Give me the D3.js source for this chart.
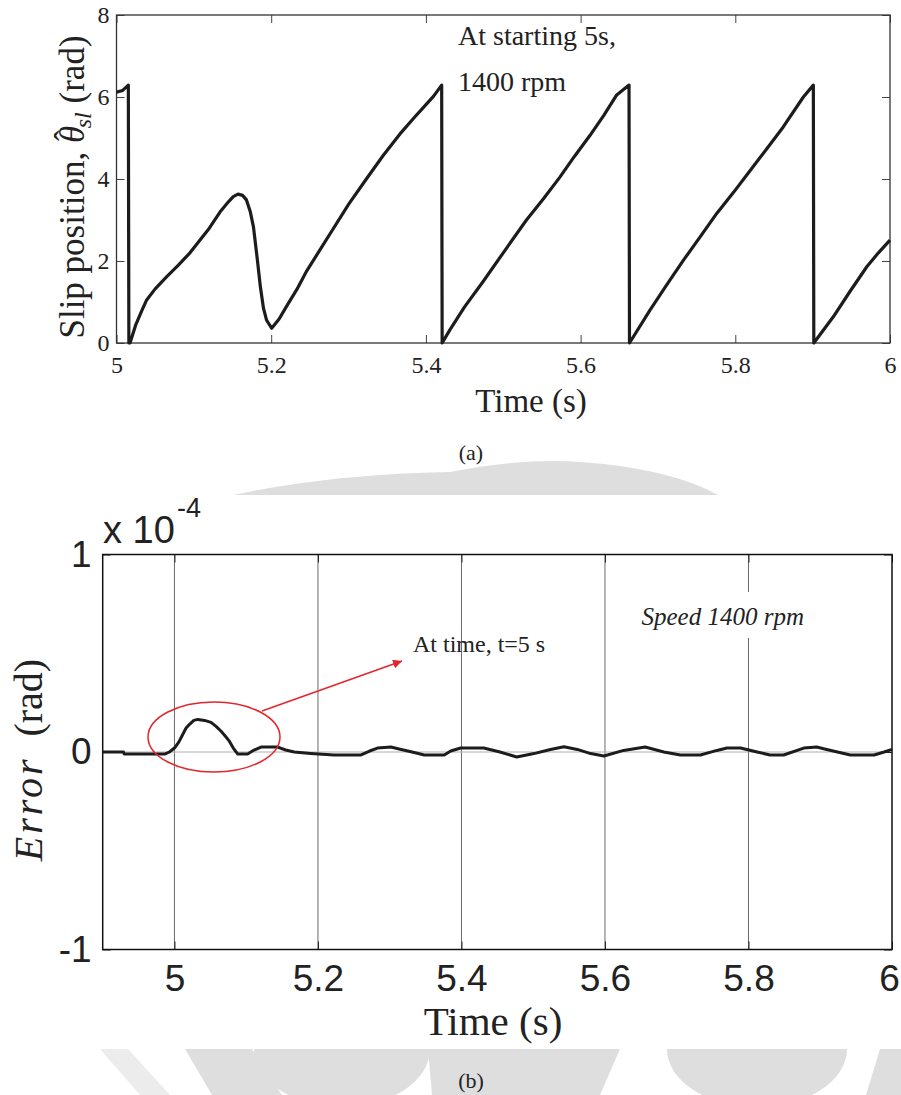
<!DOCTYPE html>
<html>
<head>
<meta charset="utf-8">
<script src="https://cdn.jsdelivr.net/npm/d3@7"></script>
<style>
  body { margin: 0; background: #fff; }
  svg { display: block; }
</style>
</head>
<body>
<script>
// (a) slip position
var slipTime = [5, 5.008, 5.0153, 5.016,
  5.0175, 5.025, 5.033, 5.039, 5.05, 5.065, 5.08, 5.095, 5.108, 5.12, 5.134, 5.145, 5.151, 5.157,
  5.163, 5.168, 5.173, 5.177, 5.182, 5.186, 5.19, 5.194, 5.2006, 5.21, 5.22, 5.233, 5.246, 5.262,
  5.28, 5.3, 5.323, 5.345, 5.3665, 5.385, 5.3966, 5.41, 5.4204, 5.421,
  5.431, 5.45, 5.474, 5.5, 5.53, 5.552, 5.573, 5.592, 5.612, 5.63, 5.6467, 5.6626, 5.6632,
  5.6897, 5.71, 5.733, 5.755, 5.776, 5.798, 5.819, 5.84, 5.862, 5.888, 5.9009, 5.9015,
  5.9267, 5.948, 5.97, 5.985, 6.0];
var slipValue = [6.12, 6.16, 6.29, 0,
  0, 0.45, 0.8, 1.05, 1.32, 1.62, 1.9, 2.2, 2.51, 2.8, 3.2, 3.45, 3.57, 3.63,
  3.6, 3.49, 3.2, 2.84, 2.05, 1.37, 0.85, 0.56, 0.36, 0.58, 0.9, 1.3, 1.76, 2.24,
  2.78, 3.38, 4.0, 4.58, 5.1, 5.5, 5.74, 6.02, 6.29, 0,
  0.32, 0.88, 1.5, 2.2, 3.0, 3.52, 4.04, 4.55, 5.06, 5.55, 6.05, 6.29, 0,
  0.8, 1.38, 2.02, 2.6, 3.16, 3.68, 4.2, 4.72, 5.27, 6.0, 6.29, 0,
  0.64, 1.25, 1.86, 2.2, 2.51];
var slipXTicks = [5, 5.2, 5.4, 5.6, 5.8, 6];
var slipYTicks = [0, 2, 4, 6, 8];

// (b) error in units of 1e-4 rad
var errTime = [4.9, 4.929, 4.93, 4.987, 4.993, 5.0, 5.006, 5.0117, 5.016, 5.021,
  5.027, 5.0326, 5.042, 5.051, 5.058, 5.065, 5.071, 5.0765, 5.082, 5.088,
  5.102, 5.111, 5.1207, 5.144, 5.155, 5.167, 5.19, 5.2227, 5.26, 5.272,
  5.283, 5.3016, 5.313, 5.325, 5.337, 5.348, 5.376, 5.385, 5.399, 5.431,
  5.4536, 5.477, 5.501, 5.524, 5.5428, 5.5614, 5.58, 5.5985, 5.626, 5.656,
  5.682, 5.705, 5.733, 5.756, 5.770, 5.789, 5.812, 5.83, 5.849, 5.877,
  5.895, 5.909, 5.942, 5.975, 5.989, 6.0];
var errValue = [0.0, 0.0, -0.01, -0.01, 0.0, 0.02, 0.05, 0.09, 0.12, 0.14,
  0.16, 0.165, 0.16, 0.15, 0.13, 0.105, 0.08, 0.055, 0.02, -0.01,
  -0.01, 0.01, 0.025, 0.025, 0.01, 0.0, -0.007, -0.015, -0.015, 0.005,
  0.02, 0.025, 0.015, 0.005, -0.005, -0.015, -0.015, 0.005, 0.02, 0.02,
  0.0, -0.025, -0.008, 0.013, 0.027, 0.013, -0.008, -0.02, 0.008, 0.025,
  0.0, -0.015, -0.015, 0.008, 0.02, 0.02, 0.0, -0.015, -0.015, 0.02,
  0.025, 0.013, -0.015, -0.015, 0.0, 0.013];
var errXTicks = [5, 5.2, 5.4, 5.6, 5.8, 6];
var errYTicks = [-1, 0, 1];

const WIDTH = 901;
const HEIGHT = 1095;
const SERIF = '"Liberation Serif", "Times New Roman", serif';
const SANS = '"Liberation Sans", Arial, sans-serif';

var svg = d3.select('body').append('svg')
  .attr('width', WIDTH)
  .attr('height', HEIGHT);

svg.append('rect').attr('width', WIDTH).attr('height', HEIGHT).attr('fill', '#fff');

// faint watermark showing through the gaps between the two figures
var drawWatermark = function(){
  var defs = svg.append('defs');
  defs.append('clipPath').attr('id', 'wm1')
    .append('rect').attr('x', 0).attr('y', 423).attr('width', WIDTH).attr('height', 72);
  defs.append('clipPath').attr('id', 'wm2')
    .append('rect').attr('x', 0).attr('y', 1049).attr('width', WIDTH).attr('height', 46);

  var g1 = svg.append('g').attr('clip-path', 'url(#wm1)').attr('fill', '#dedede');
  g1.append('path').attr('d', 'M228,496 Q330,474 450,472 Q520,458 580,462 Q670,468 720,496 Z');
  var g2 = svg.append('g').attr('clip-path', 'url(#wm2)').attr('fill', '#dedede');
  g2.append('path').attr('d', 'M100,1049 L128,1049 L170,1095 L140,1095 Z').attr('fill', '#ececec');
  g2.append('path').attr('d', 'M185,1049 L252,1049 L282,1095 L212,1095 Z');
  g2.append('ellipse').attr('cx', 342).attr('cy', 1049).attr('rx', 88).attr('ry', 58);
  g2.append('path').attr('d', 'M428,1049 L620,1049 L600,1095 L432,1095 Z');
  g2.append('ellipse').attr('cx', 757).attr('cy', 1049).attr('rx', 90).attr('ry', 58);
  g2.append('path').attr('d', 'M880,1049 L901,1049 L901,1095 L866,1095 Z');
};

var drawSlip = function(){
  var x = d3.scaleLinear().domain([5, 6]).range([116.5, 890]);
  var y = d3.scaleLinear().domain([0, 8]).range([343, 15]);
  var g = svg.append('g');

  g.append('g').attr('transform', 'translate(0,343)')
    .call(d3.axisBottom(x).tickValues(slipXTicks).tickSize(-8).tickPadding(13).tickFormat(d3.format('')));
  g.append('g').attr('transform', 'translate(0,15)')
    .call(d3.axisTop(x).tickValues(slipXTicks).tickSize(-8).tickFormat(''));
  g.append('g').attr('transform', 'translate(116.5,0)')
    .call(d3.axisLeft(y).tickValues(slipYTicks).tickSize(-8).tickPadding(7).tickFormat(d3.format('')));
  g.append('g').attr('transform', 'translate(890,0)')
    .call(d3.axisRight(y).tickValues(slipYTicks).tickSize(-8).tickFormat(''));
  g.selectAll('.domain').remove();
  g.selectAll('.tick line').attr('stroke', '#444');
  g.selectAll('.tick text').attr('font-family', SERIF).attr('font-size', 24).attr('fill', '#222');

  g.append('rect').attr('x', 116.5).attr('y', 15).attr('width', 890 - 116.5).attr('height', 328)
    .attr('fill', 'none').attr('stroke', '#333').attr('stroke-width', 1.3);

  var pts = slipTime.map(function(t, i){ return [t, slipValue[i]]; });
  var line = d3.line().x(function(d){ return x(d[0]); }).y(function(d){ return y(d[1]); });
  g.append('path').attr('d', line(pts)).attr('fill', 'none')
    .attr('stroke', '#1c1c1c').attr('stroke-width', 3.2).attr('stroke-linejoin', 'round');

  g.append('text').attr('x', 531).attr('y', 412).attr('text-anchor', 'middle')
    .attr('font-family', SERIF).attr('font-size', 33).attr('fill', '#222').text('Time (s)');

  var yl = g.append('text').attr('transform', 'translate(84,187) rotate(-90)')
    .attr('text-anchor', 'middle').attr('font-family', SERIF).attr('font-size', 35).attr('fill', '#222');
  yl.append('tspan').text('Slip position, ');
  yl.append('tspan').attr('font-style', 'italic').text('\u03B8');
  yl.append('tspan').attr('dx', -15).attr('dy', -8).attr('font-size', 32).text('\u02C6');
  yl.append('tspan').attr('font-style', 'italic').attr('font-size', 24).attr('dx', 2).attr('dy', 15).text('sl');
  yl.append('tspan').attr('dy', -7).text(' (rad)');

  var note = g.append('text').attr('font-family', SERIF).attr('font-size', 28).attr('fill', '#222');
  note.append('tspan').attr('x', 458).attr('y', 45).text('At starting 5s,');
  note.append('tspan').attr('x', 458).attr('y', 91).text('1400 rpm');

  svg.append('text').attr('x', 471).attr('y', 460).attr('text-anchor', 'middle')
    .attr('font-family', SERIF).attr('font-size', 22).attr('fill', '#222').text('(a)');
};

var drawError = function(){
  var x = d3.scaleLinear().domain([4.9, 6]).range([102.7, 892]);
  var y = d3.scaleLinear().domain([-1, 1]).range([949.5, 554.5]);
  var g = svg.append('g');

  // grid
  g.append('g').selectAll('line').data(errXTicks.slice(0, -1)).enter().append('line')
    .attr('x1', function(d){ return x(d); }).attr('x2', function(d){ return x(d); })
    .attr('y1', 554.5).attr('y2', 949.5).attr('stroke', '#6a6a6a').attr('stroke-width', 1);
  g.append('line').attr('x1', 102.7).attr('x2', 892).attr('y1', y(0)).attr('y2', y(0))
    .attr('stroke', '#b0b0b0').attr('stroke-width', 1);

  g.append('g').attr('transform', 'translate(0,949.5)')
    .call(d3.axisBottom(x).tickValues(errXTicks).tickSize(-8).tickPadding(15).tickFormat(d3.format('')));
  g.append('g').attr('transform', 'translate(0,554.5)')
    .call(d3.axisTop(x).tickValues(errXTicks).tickSize(-8).tickFormat(''));
  g.append('g').attr('transform', 'translate(102.7,0)')
    .call(d3.axisLeft(y).tickValues(errYTicks).tickSize(-8).tickPadding(11).tickFormat(function(d){ return String(d); }));
  g.append('g').attr('transform', 'translate(892,0)')
    .call(d3.axisRight(y).tickValues(errYTicks).tickSize(-8).tickFormat(''));
  g.selectAll('.domain').remove();
  g.selectAll('.tick line').attr('stroke', '#222');
  g.selectAll('.tick text').attr('font-family', SANS).attr('font-size', 37).attr('fill', '#222');
  // last label sits against the page edge
  g.selectAll('.tick text').filter(function(d){ return d === 6; }).attr('dx', -3);

  // text box of the speed note hides the grid behind it
  g.append('rect').attr('x', 636).attr('y', 592).attr('width', 180).attr('height', 46).attr('fill', '#fff');
  g.append('text').attr('x', 641.5).attr('y', 625).attr('font-family', SERIF).attr('font-style', 'italic')
    .attr('font-size', 25).attr('fill', '#222').text('Speed 1400 rpm');

  g.append('rect').attr('x', 102.7).attr('y', 554.5).attr('width', 892 - 102.7).attr('height', 395)
    .attr('fill', 'none').attr('stroke', '#111').attr('stroke-width', 1.5);

  var pts = errTime.map(function(t, i){ return [t, errValue[i]]; });
  var line = d3.line().x(function(d){ return x(d[0]); }).y(function(d){ return y(d[1]); });
  g.append('path').attr('d', line(pts)).attr('fill', 'none')
    .attr('stroke', '#1c1c1c').attr('stroke-width', 3).attr('stroke-linejoin', 'round');

  // exponent
  var ex = g.append('text').attr('font-family', SANS).attr('fill', '#222');
  ex.append('tspan').attr('x', 103).attr('y', 543).attr('font-size', 38).text('x 10');
  ex.append('tspan').attr('x', 177).attr('y', 517).attr('font-size', 27).text('-4');

  // annotation
  var red = '#e3262b';
  svg.append('defs').append('marker').attr('id', 'arrow').attr('viewBox', '0 0 10 10')
    .attr('refX', 10).attr('refY', 5).attr('markerWidth', 9).attr('markerHeight', 9)
    .attr('markerUnits', 'userSpaceOnUse').attr('orient', 'auto')
    .append('path').attr('d', 'M0,0 L10,5 L0,10 Z').attr('fill', red);
  g.append('ellipse').attr('cx', 214).attr('cy', 737).attr('rx', 66).attr('ry', 35)
    .attr('fill', 'none').attr('stroke', red).attr('stroke-width', 1.5);
  g.append('line').attr('x1', 262).attr('y1', 711).attr('x2', 402).attr('y2', 661)
    .attr('stroke', red).attr('stroke-width', 1.5).attr('marker-end', 'url(#arrow)');
  g.append('text').attr('x', 413).attr('y', 652).attr('font-family', SERIF).attr('font-size', 24)
    .attr('fill', '#222').text('At time, t=5 s');

  g.append('text').attr('x', 493).attr('y', 1035).attr('text-anchor', 'middle')
    .attr('font-family', SERIF).attr('font-size', 41).attr('fill', '#222').text('Time (s)');

  var yl = g.append('text').attr('transform', 'translate(42,760) rotate(-90)')
    .attr('text-anchor', 'middle').attr('font-family', SERIF).attr('font-size', 40).attr('fill', '#222');
  yl.append('tspan').attr('font-style', 'italic').attr('letter-spacing', 3).text('Error');
  yl.append('tspan').text('\u2002(rad)');

  svg.append('text').attr('x', 471).attr('y', 1088).attr('text-anchor', 'middle')
    .attr('font-family', SERIF).attr('font-size', 22).attr('fill', '#222').text('(b)');
};

drawWatermark();
drawSlip();
drawError();
</script>
</body>
</html>
